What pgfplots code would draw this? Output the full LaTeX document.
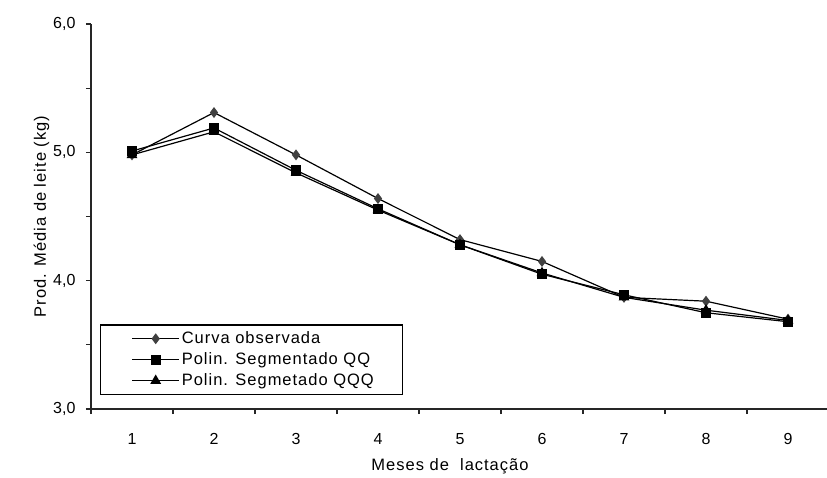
\documentclass[border=0pt]{standalone}
\usepackage{pgfplots}
\pgfplotsset{compat=1.18}
\usepackage{fontspec}
\setmainfont{Liberation Sans}
\newfontfamily\spaced{Liberation Sans}[LetterSpace=6]
\begin{document}
\begin{tikzpicture}
\begin{axis}[
  name=ax,
  at={(0,0)}, anchor=south west,
  scale only axis,
  width=738pt, height=385pt,
  xmin=0.5, xmax=9.5,
  ymin=3, ymax=6,
  axis lines=left,
  axis line style={-, line width=1.3pt, black!85},
  xtick={1,...,9},
  major x tick style={draw=none},
  minor xtick={0.5,1.5,...,9.5},
  ytick={3,4,5,6},
  minor ytick={3.5,4.5,5.5},
  tick align=outside,
  major tick length=5pt,
  minor tick length=5pt,
  tick style={line width=1.2pt, black!85},
  tick pos=left,
  /pgf/number format/assume math mode=true,
  /pgf/number format/.cd, use comma, fixed, fixed zerofill, precision=1, /pgfplots/.cd,
  xticklabel style={font=\fontsize{16}{18}\selectfont, yshift=-16pt},
  xticklabel={\pgfmathprintnumber[precision=0,fixed zerofill=false]{\tick}},
  yticklabel style={font=\fontsize{16}{18}\selectfont, xshift=-7pt},
  xlabel={\spaced Meses de\ \ lactação},
  ylabel={\spaced Prod. Média de leite (kg)},
  label style={font=\fontsize{16.5}{18}\selectfont},
  xlabel style={yshift=-7pt, xshift=-10pt},
  ylabel style={yshift=-3pt},
  legend style={at={(axis description cs:0,0)}, anchor=south west,
    xshift=9pt, yshift=14pt, draw=black, line width=1.2pt,
    font=\fontsize{16.5}{18}\selectfont\spaced,
    inner xsep=14pt, inner ysep=5pt, row sep=3.5pt,
    legend cell align=left},
  legend image code/.code={
    \path (0pt,0pt);
    \draw[mark repeat=2, mark phase=2, #1] plot coordinates {(17pt,0pt) (40.5pt,0pt) (64pt,0pt)};
  },
]
\addplot[line width=1.2pt, black, mark=diamond*, mark size=4.5pt, mark options={fill=black!75, draw=black!75}]
  coordinates {(1,4.98) (2,5.31) (3,4.98) (4,4.64) (5,4.32) (6,4.15) (7,3.87) (8,3.84) (9,3.70)};
\addlegendentry{Curva observada}
\addplot[line width=1.2pt, black, mark=square*, mark size=4.5pt, mark options={fill=black}]
  coordinates {(1,5.01) (2,5.19) (3,4.86) (4,4.56) (5,4.28) (6,4.05) (7,3.89) (8,3.75) (9,3.68)};
\addlegendentry{Polin. Segmentado QQ}
\addplot[line width=1.2pt, black, mark=triangle*, mark size=5pt, mark options={fill=black}]
  coordinates {(1,4.98) (2,5.16) (3,4.84) (4,4.55) (5,4.28) (6,4.06) (7,3.87) (8,3.77) (9,3.69)};
\addlegendentry{Polin. Segmetado QQQ\hspace*{13pt}}
\end{axis}
\pgfresetboundingbox
\path[use as bounding box] (-91pt,-68pt) rectangle (736pt,409pt);
\end{tikzpicture}
\end{document}
